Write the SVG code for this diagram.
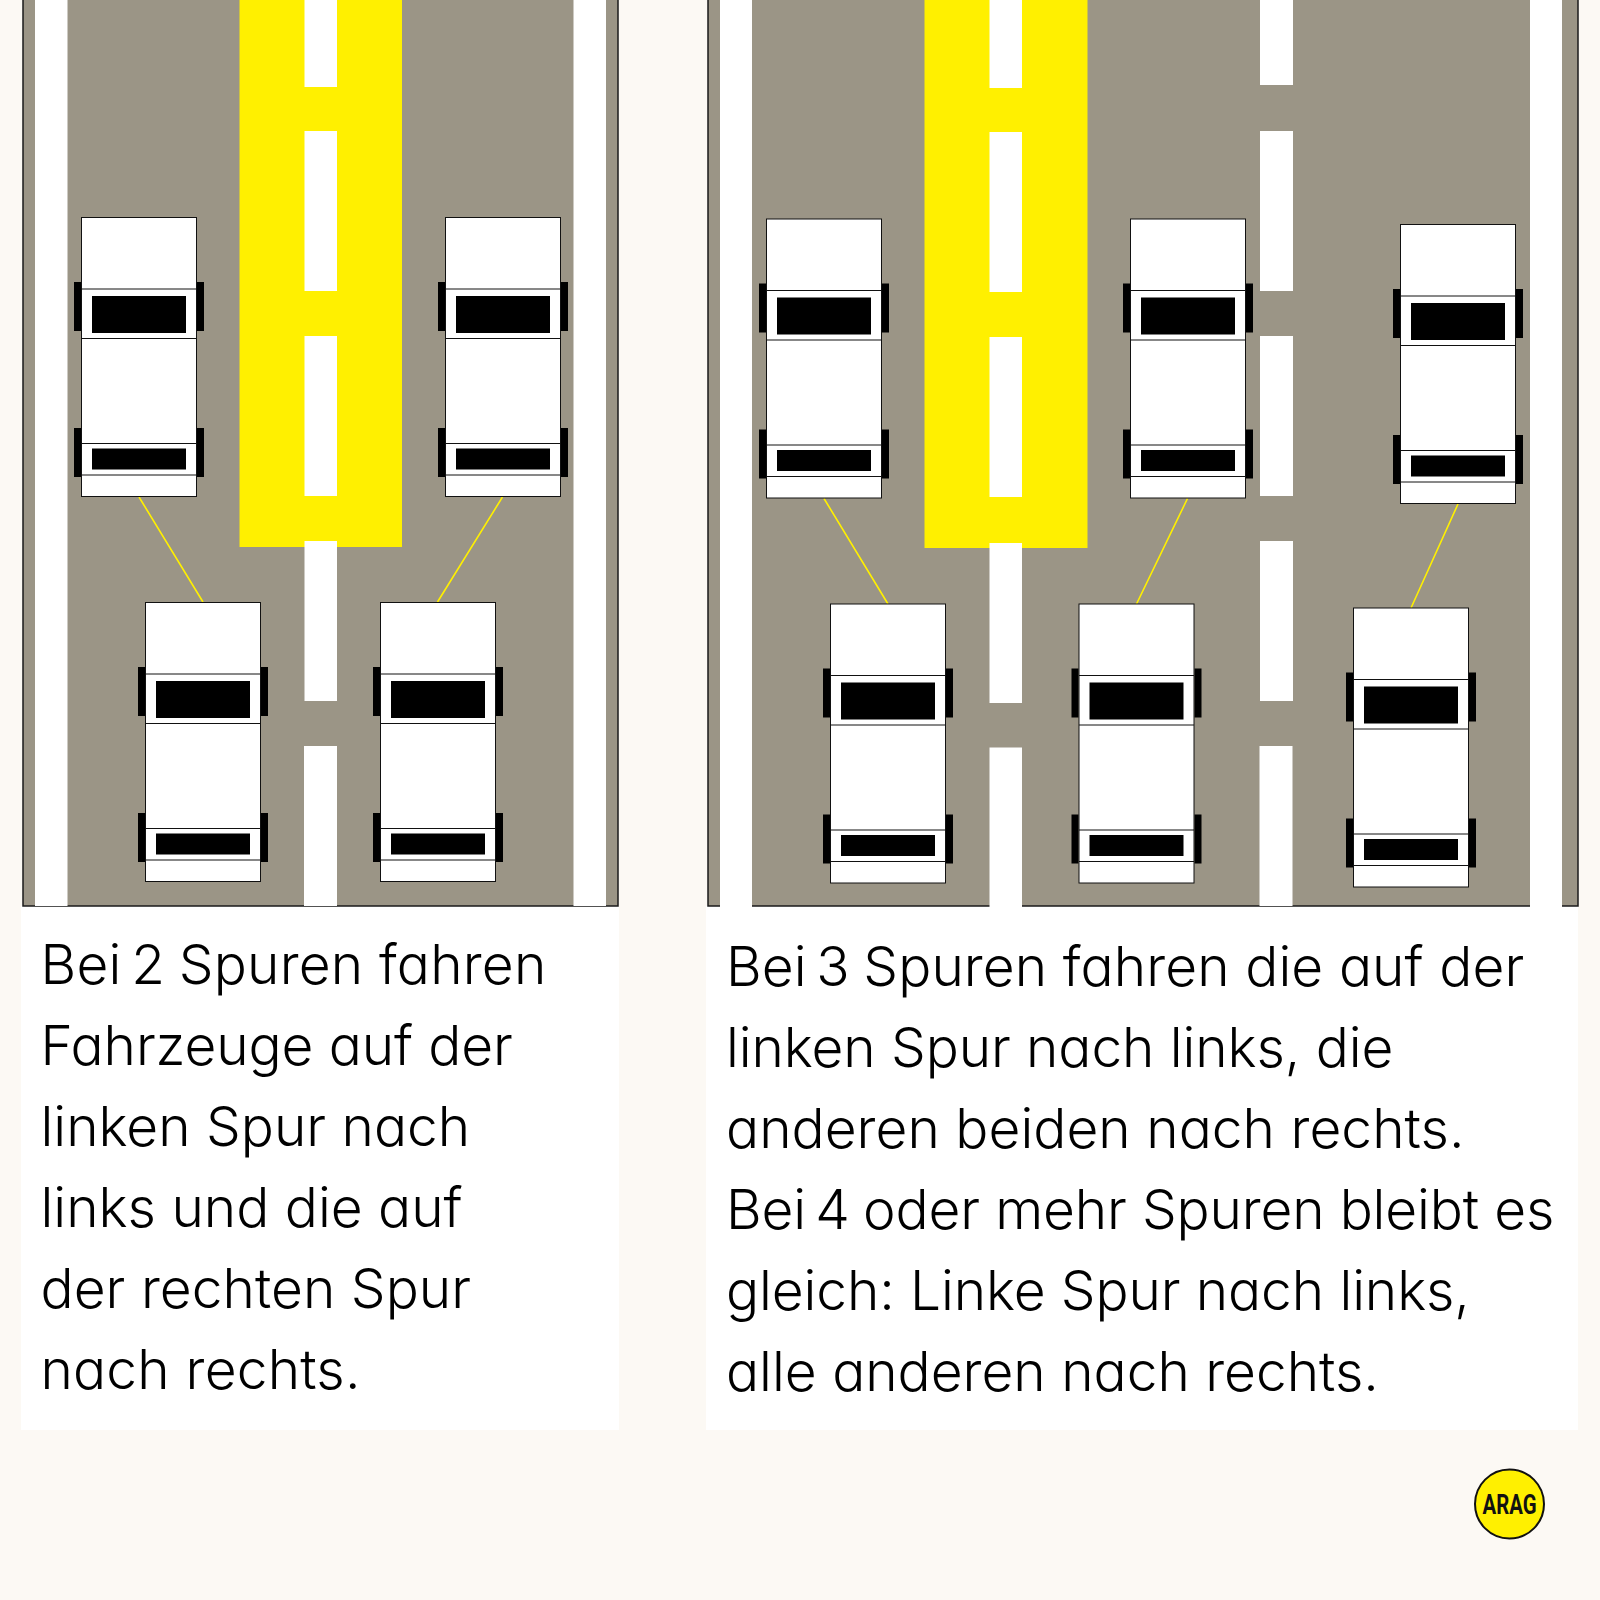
<svg xmlns="http://www.w3.org/2000/svg" width="1600" height="1600" viewBox="0 0 1600 1600">
<style>
.road{fill:#9b9586;stroke:#1a1a1a;stroke-width:1.5}
.w{fill:#fff}
.y{fill:#fff000}
.panel{fill:#fff}
.body{fill:#fff;stroke:#111;stroke-width:1}
.k{fill:#000}
.link{stroke:#fff000;stroke-width:1.6;fill:none}
.t{font-family:"Inter","Noto Sans",sans-serif;font-weight:300;font-size:55px;font-feature-settings:"cv11" 1;fill:#000}
.n6{word-spacing:-6px}
.n2{word-spacing:-2px}
.logo{font-family:"Roboto","Liberation Sans",sans-serif;font-weight:700;font-size:28px;fill:#111}
</style>
<defs>
<g id="car">
<rect class="k" x="-7.5" y="64.5" width="7" height="49"/>
<rect class="k" x="115.5" y="64.5" width="7" height="49"/>
<rect class="k" x="-7.5" y="210.5" width="7" height="49"/>
<rect class="k" x="115.5" y="210.5" width="7" height="49"/>
<rect class="body" x="0" y="0" width="115" height="279"/>
<path class="body" d="M0 71.5H115M0 121H115M0 226H115M0 257.5H115"/>
<rect class="k" x="10.5" y="78.5" width="94" height="37"/>
<rect class="k" x="10.5" y="231" width="94" height="21"/>
</g>
</defs>
<rect width="1600" height="1600" fill="#fcf9f4"/>
<g id="panels">
<rect class="panel" x="21" y="906" width="598" height="524"/>
<rect class="panel" x="706" y="906" width="872" height="524"/>
</g>
<g id="road-left">
<rect class="road" x="23" y="-2" width="595" height="908"/>
<rect class="w" x="35" y="0" width="32.500" height="906"/>
<rect class="w" x="573.500" y="0" width="32.500" height="906"/>
<rect class="y" x="239.500" y="0" width="162.500" height="547"/>
<g class="w">
<rect x="304.500" y="0" width="32.500" height="87"/>
<rect x="304.500" y="131" width="32.500" height="160"/>
<rect x="304.500" y="336" width="32.500" height="160"/>
<rect x="304.500" y="541" width="32.500" height="160"/>
<rect x="304" y="746" width="33" height="160"/>
</g>
</g>
<g id="road-right">
<rect class="road" x="708" y="-2" width="870" height="908"/>
<rect class="w" x="720" y="0" width="32" height="907"/>
<rect class="w" x="1530" y="0" width="32" height="907"/>
<rect class="y" x="924.500" y="0" width="163" height="548"/>
<g class="w">
<rect x="989.500" y="0" width="32.500" height="88"/>
<rect x="989.500" y="132" width="32.500" height="160"/>
<rect x="989.500" y="337" width="32.500" height="160"/>
<rect x="989.500" y="543" width="32.500" height="160"/>
<rect x="989.500" y="747.500" width="32.500" height="160"/>
<rect x="1260" y="0" width="33" height="85"/>
<rect x="1260" y="131" width="33" height="160"/>
<rect x="1260" y="336" width="33" height="160"/>
<rect x="1260" y="541" width="33" height="160"/>
<rect x="1259.500" y="746" width="33" height="160"/>
</g>
</g>
<g id="connectors">
<path class="link" d="M139 497L203 602M502.500 497L437.500 602M824 498.500L888 604M1187.500 498.500L1136.500 604M1458 504L1411 608"/>
</g>
<g id="car-1"><use href="#car" x="81.500" y="217.500"/></g>
<g id="car-2"><use href="#car" x="445.500" y="217.500"/></g>
<g id="car-3"><use href="#car" x="145.500" y="602.500"/></g>
<g id="car-4"><use href="#car" x="380.500" y="602.500"/></g>
<g id="car-5"><use href="#car" x="766.500" y="219"/></g>
<g id="car-6"><use href="#car" x="1130.500" y="219"/></g>
<g id="car-7"><use href="#car" x="1400.500" y="224.500"/></g>
<g id="car-8"><use href="#car" x="830.500" y="604"/></g>
<g id="car-9"><use href="#car" x="1079" y="604"/></g>
<g id="car-10"><use href="#car" x="1353.500" y="608"/></g>
<g id="text-left" class="t">
<text x="40.500" y="984" letter-spacing="0.2"><tspan class="n6">Bei </tspan><tspan class="n2">2 </tspan>Spuren fahren</text>
<text x="40.500" y="1065" letter-spacing="-0.1">Fahrzeuge auf der</text>
<text x="40.500" y="1146">linken Spur nach</text>
<text x="40.500" y="1227">links und die auf</text>
<text x="40.500" y="1308" letter-spacing="0.05">der rechten Spur</text>
<text x="40.500" y="1389" letter-spacing="0.2">nach rechts.</text>
</g>
<g id="text-right" class="t">
<text x="726" y="986" letter-spacing="0.1"><tspan class="n6">Bei </tspan><tspan class="n2">3 </tspan>Spuren fahren die auf der</text>
<text x="726" y="1067" letter-spacing="-0.08">linken Spur nach links, die</text>
<text x="726" y="1148" letter-spacing="0.04">anderen beiden nach rechts.</text>
<text x="726" y="1229" letter-spacing="-0.15"><tspan class="n6">Bei </tspan><tspan class="n2">4 </tspan>oder mehr Spuren bleibt es</text>
<text x="726" y="1310" letter-spacing="-0.1">gleich: Linke Spur nach links,</text>
<text x="726" y="1391">alle anderen nach rechts.</text>
</g>
<g id="logo">
<circle cx="1509.500" cy="1504" r="34.500" fill="#fff000" stroke="#111" stroke-width="2"/>
<text class="logo" x="1482.500" y="1514" textLength="54" lengthAdjust="spacingAndGlyphs">ARAG</text>
</g>
</svg>
